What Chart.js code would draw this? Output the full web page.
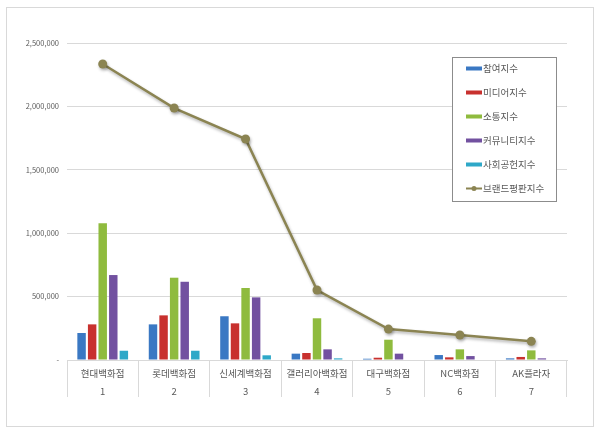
<!DOCTYPE html>
<html>
<head>
<meta charset="utf-8">
<script src="https://cdn.jsdelivr.net/npm/chart.js@4"></script>
<style>
  body { margin: 0; background: #fff; }
  #wrap { position: relative; width: 600px; height: 432px; }
  #frame { position: absolute; left: 6px; top: 7px; width: 586px; height: 418px; border: 1px solid #d9d9d9; }
  canvas { position: absolute; left: 0; top: 0; }
</style>
</head>
<body>
<div id="wrap">
  <div id="frame"></div>
  <canvas id="brandChart" width="600" height="432"></canvas>
</div>
<script>
  const brands = ['현대백화점', '롯데백화점', '신세계백화점', '갤러리아백화점', '대구백화점', 'NC백화점', 'AK플라자'];
  const ranks = ['1', '2', '3', '4', '5', '6', '7'];

  const participation = [213000, 281000, 345000, 50000, 10000, 39000, 13000];
  const media = [281000, 352000, 289000, 55000, 18000, 21000, 24000];
  const communication = [1078000, 649000, 568000, 329000, 160000, 84000, 76000];
  const community = [670000, 617000, 494000, 84000, 50000, 31000, 13000];
  const social = [73000, 73000, 37000, 13000, 0, 0, 0];
  const brandIndex = [2334000, 1987000, 1743000, 552000, 244000, 197000, 147000];

  const yTicks = [0, 500000, 1000000, 1500000, 2000000, 2500000];

  const FONT = "'Noto Sans CJK KR', 'Noto Sans', sans-serif";
  const TEXT = '#595959';
  const GRID = '#d9d9d9';

  const bar = (label, data, color) => ({
    type: 'bar',
    label: label,
    data: data,
    backgroundColor: color,
    borderWidth: 0,
    barPercentage: 0.8,
    categoryPercentage: 0.74,
    order: 1
  });

  // legend box drawn inside the plot, like the original
  const boxLegend = {
    id: 'boxLegend',
    afterDraw(chart) {
      const ctx = chart.ctx;
      const left = 452, top = 57, w = 104, h = 144;
      ctx.save();
      ctx.fillStyle = '#fff';
      ctx.fillRect(left, top, w, h);
      ctx.strokeStyle = '#8c8c8c';
      ctx.lineWidth = 1;
      ctx.strokeRect(left + 0.5, top + 0.5, w, h);
      ctx.font = '9.5px ' + FONT;
      ctx.textBaseline = 'middle';
      chart.data.datasets.forEach((ds, i) => {
        const y = 68.5 + i * 24;
        const color = ds.type === 'line' ? ds.borderColor : ds.backgroundColor;
        if (ds.type === 'line') {
          ctx.strokeStyle = color;
          ctx.lineWidth = 2;
          ctx.beginPath();
          ctx.moveTo(466, y);
          ctx.lineTo(482, y);
          ctx.stroke();
          ctx.fillStyle = color;
          ctx.beginPath();
          ctx.arc(474, y, 2.5, 0, Math.PI * 2);
          ctx.fill();
        } else {
          ctx.fillStyle = color;
          ctx.fillRect(466, y - 2, 16, 4);
        }
        ctx.fillStyle = TEXT;
        ctx.fillText(ds.label, 483, y);
      });
      ctx.restore();
    }
  };

  const lineShadow = {
    id: 'lineShadow',
    beforeDatasetDraw(chart, args) {
      if (chart.data.datasets[args.index].type !== 'line') return;
      const ctx = chart.ctx;
      ctx.save();
      ctx.shadowColor = 'rgba(0,0,0,0.3)';
      ctx.shadowBlur = 3;
      ctx.shadowOffsetX = 1;
      ctx.shadowOffsetY = 2;
    },
    afterDatasetDraw(chart, args) {
      if (chart.data.datasets[args.index].type !== 'line') return;
      chart.ctx.restore();
    }
  };

  new Chart(document.getElementById('brandChart'), {
    data: {
      labels: brands.map((b, i) => [b, ranks[i]]),
      datasets: [
        bar('참여지수', participation, '#3a78c3'),
        bar('미디어지수', media, '#c8312e'),
        bar('소통지수', communication, '#8fbb3e'),
        bar('커뮤니티지수', community, '#7251a0'),
        bar('사회공헌지수', social, '#2ea8c8'),
        {
          type: 'line',
          label: '브랜드평판지수',
          data: brandIndex,
          borderColor: '#8b8452',
          backgroundColor: '#8b8452',
          borderWidth: 2.5,
          pointRadius: 4.5,
          pointBackgroundColor: '#8b8452',
          pointBorderWidth: 0,
          tension: 0,
          order: 0
        }
      ]
    },
    options: {
      responsive: false,
      animation: false,
      layout: { padding: { left: 7, top: 43, right: 33, bottom: 0 } },
      plugins: {
        legend: { display: false },
        title: { display: false },
        tooltip: { enabled: false }
      },
      scales: {
        x: {
          offset: true,
          grid: {
            offset: true,
            drawOnChartArea: false,
            drawTicks: true,
            tickLength: 37,
            color: GRID
          },
          border: { display: true, color: GRID },
          ticks: {
            padding: -32,
            color: TEXT,
            font: { family: FONT, size: 9.5, lineHeight: 1.85 },
            maxRotation: 0,
            autoSkip: false
          },
          afterFit: (scale) => { scale.height = 72; }
        },
        y: {
          min: 0,
          max: 2500000,
          afterBuildTicks: (scale) => { scale.ticks = yTicks.map(v => ({ value: v })); },
          grid: { color: GRID, drawTicks: false },
          border: { display: false },
          ticks: {
            padding: 8,
            color: TEXT,
            font: { family: FONT, size: 7.5 },
            callback: (v) => v === 0 ? '-' : v.toLocaleString('en-US')
          },
          afterFit: (scale) => { scale.width = 60; }
        }
      }
    },
    plugins: [lineShadow, boxLegend]
  });
</script>
</body>
</html>
